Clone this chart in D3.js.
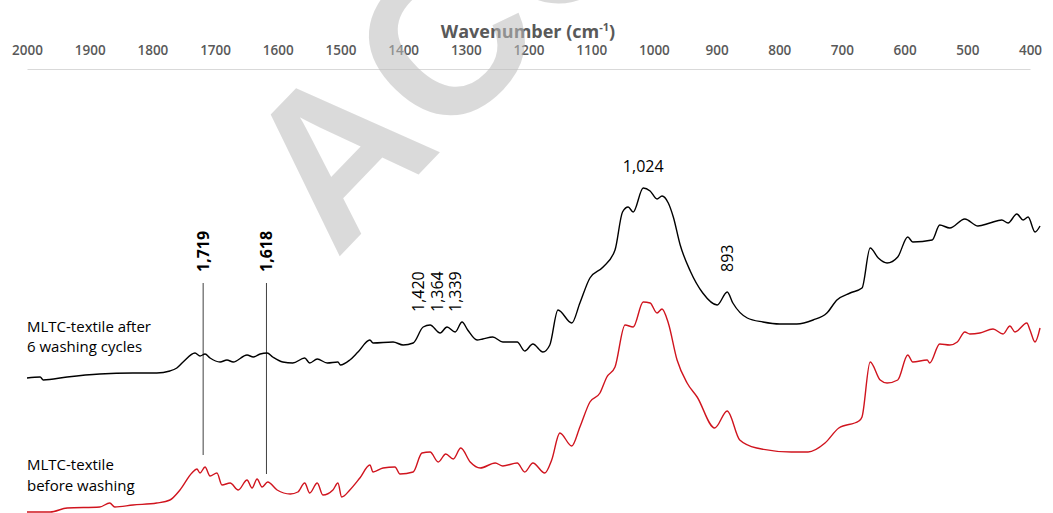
<!DOCTYPE html>
<html>
<head>
<meta charset="utf-8">
<script src="https://cdn.jsdelivr.net/npm/d3@7"></script>
<style>
  html, body { margin: 0; padding: 0; background: #fff; }
  svg { display: block; }
</style>
</head>
<body>
<div id="chart"></div>
<script>
// ---- data ----
const tickValues = [2000, 1900, 1800, 1700, 1600, 1500, 1400, 1300, 1200, 1100, 1000, 900, 800, 700, 600, 500, 400];

const afterWn = [2000,1979,1974,1936,1884,1831,1793,1772,1761,1751,1732,1724,1716,1708,1692,1681,1671,1649,1639,1628,1617,1608,1592,1576,1557,1549,1537,1521,1504,1500,1485,1472,1453,1448,1416,1400,1384,1368,1357,1341,1330,1317,1306,1297,1282,1273,1257,1241,1218,1206,1193,1177,1166,1153,1131,1118,1102,1081,1062,1050,1041,1033,1017,1006,995,987,977,969,958,942,922,899,883,874,851,826,799,772,746,724,708,687,668,655,642,628,611,595,587,556,544,528,504,483,464,445,435,421,411,403,392,384];
const afterVal = [142,143,140,143,146,147,147,149,152,158,167,164,166,162,158,160,158,165,163,166,167,163,158,157,162,157,161,157,158,155,160,168,180,177,178,175,177,193,195,187,193,188,198,190,180,181,183,178,178,169,176,168,175,210,197,217,242,253,270,308,313,308,332,329,321,324,317,303,275,249,227,215,228,217,202,198,196,196,200,207,220,227,232,272,262,257,263,283,278,280,295,292,301,294,297,300,297,306,300,303,288,294];

const beforeWn = [2000,1963,1936,1884,1868,1860,1831,1793,1772,1756,1737,1729,1724,1716,1708,1697,1689,1676,1663,1649,1641,1633,1625,1616,1601,1580,1568,1557,1549,1537,1528,1512,1504,1498,1485,1469,1453,1448,1432,1413,1405,1384,1370,1357,1344,1332,1320,1308,1293,1277,1253,1241,1218,1206,1193,1174,1163,1150,1131,1118,1102,1086,1075,1062,1046,1033,1017,1006,995,987,977,963,947,931,903,883,863,836,781,754,727,705,673,668,655,639,628,611,595,587,564,560,544,528,516,504,496,480,459,443,432,424,405,400,392,384];
const beforeVal = [8,8,12,13,17,13,15,17,20,30,47,51,47,53,44,47,35,37,30,40,32,41,33,38,30,26,28,37,27,37,25,30,37,23,30,42,55,48,52,53,46,48,67,68,58,66,61,72,58,52,57,54,57,48,57,47,60,87,74,93,118,127,143,153,195,193,218,217,207,211,197,160,137,123,92,109,80,72,68,68,77,92,99,103,158,140,137,140,165,158,160,157,176,175,178,188,186,187,191,186,194,188,197,190,178,192];

const seriesNames = [["MLTC-textile after", "6 washing cycles"], ["MLTC-textile", "before washing"]];
const seriesColors = ["#000000", "#d0141e"];

const verticalMarks = [
  { text: "1,719", wn: 1719, lineFrom: 283, lineTo: 455 },
  { text: "1,618", wn: 1618, lineFrom: 283, lineTo: 474 }
];
const trioLabels = [
  { text: "1,420", wn: 1376 },
  { text: "1,364", wn: 1346 },
  { text: "1,339", wn: 1317 }
];

// ---- layout ----
const W = 1053, H = 513;
const svg = d3.select("#chart").append("svg").attr("width", W).attr("height", H);

const x = d3.scaleLinear().domain([2000, 400]).range([27, 1030]);
const y = d3.scaleLinear().domain([0, 350]).range([520, 170]);

const FONT = "'Open Sans', 'Liberation Sans', sans-serif";

// axis (top)
const axis = d3.axisTop(x).tickValues(tickValues).tickSize(0).tickPadding(14).tickFormat(d3.format("d"));
const gAxis = svg.append("g").attr("transform", "translate(0,69)").call(axis);
gAxis.select(".domain").attr("stroke", "#d9d9d9").attr("stroke-width", 1.2);
gAxis.selectAll("text")
  .attr("font-family", FONT).attr("font-size", "13.5px").attr("font-weight", 600)
  .attr("fill", "#595959");

const title = svg.append("text")
  .attr("x", 528).attr("y", 38).attr("text-anchor", "middle")
  .attr("font-family", FONT).attr("font-size", "18px").attr("font-weight", 700)
  .attr("fill", "#595959");
title.append("tspan").text("Wavenumber (cm");
title.append("tspan").text("-1").attr("font-size", "11px").attr("dy", -7);
title.append("tspan").text(")").attr("dy", 7);

// lines
const line = d3.line().x(d => x(d[0])).y(d => y(d[1])).curve(d3.curveMonotoneX);
const afterData = afterWn.map((w, i) => [w, afterVal[i]]);
const beforeData = beforeWn.map((w, i) => [w, beforeVal[i]]);

verticalMarks.forEach(m => {
  svg.append("line")
    .attr("x1", x(m.wn)).attr("x2", x(m.wn))
    .attr("y1", m.lineFrom).attr("y2", m.lineTo)
    .attr("stroke", "#404040").attr("stroke-width", 1);
  svg.append("text")
    .attr("transform", `translate(${x(m.wn) + 6},272) rotate(-90)`)
    .attr("font-family", FONT).attr("font-size", "16px").attr("font-weight", 700)
    .attr("fill", "#000").text(m.text);
});

svg.append("path").datum(afterData).attr("d", line)
  .attr("fill", "none").attr("stroke", seriesColors[0]).attr("stroke-width", 1.4);
svg.append("path").datum(beforeData).attr("d", line)
  .attr("fill", "none").attr("stroke", seriesColors[1]).attr("stroke-width", 1.4);

trioLabels.forEach(m => {
  svg.append("text")
    .attr("transform", `translate(${x(m.wn) + 6},312) rotate(-90)`)
    .attr("font-family", FONT).attr("font-size", "16px")
    .attr("fill", "#000").text(m.text);
});

svg.append("text")
  .attr("transform", `translate(${x(883) + 6},272) rotate(-90)`)
  .attr("font-family", FONT).attr("font-size", "16px")
  .attr("fill", "#000").text("893");

svg.append("text")
  .attr("x", x(1017)).attr("y", 172).attr("text-anchor", "middle")
  .attr("font-family", FONT).attr("font-size", "16px")
  .attr("fill", "#000").text("1,024");

const labelPos = [[332, 352], [470, 491]];
seriesNames.forEach((lines, i) => {
  lines.forEach((t, j) => {
    svg.append("text").attr("x", 27).attr("y", labelPos[i][j])
      .attr("font-family", FONT).attr("font-size", "15px")
      .attr("fill", "#000").text(t);
  });
});

// watermark (clipped to the picture)
svg.append("clipPath").attr("id", "wmclip")
  .append("rect").attr("x", 0).attr("y", 0).attr("width", W).attr("height", H);
svg.append("g").attr("clip-path", "url(#wmclip)")
  .append("text")
  .attr("transform", "translate(336,260) rotate(-46)")
  .attr("font-family", "'Liberation Sans', Arial, sans-serif")
  .attr("font-size", "215px").attr("font-weight", 700)
  .attr("fill", "#bdbdbd").attr("opacity", 0.55)
  .text("ACCEPTED");
</script>
</body>
</html>
